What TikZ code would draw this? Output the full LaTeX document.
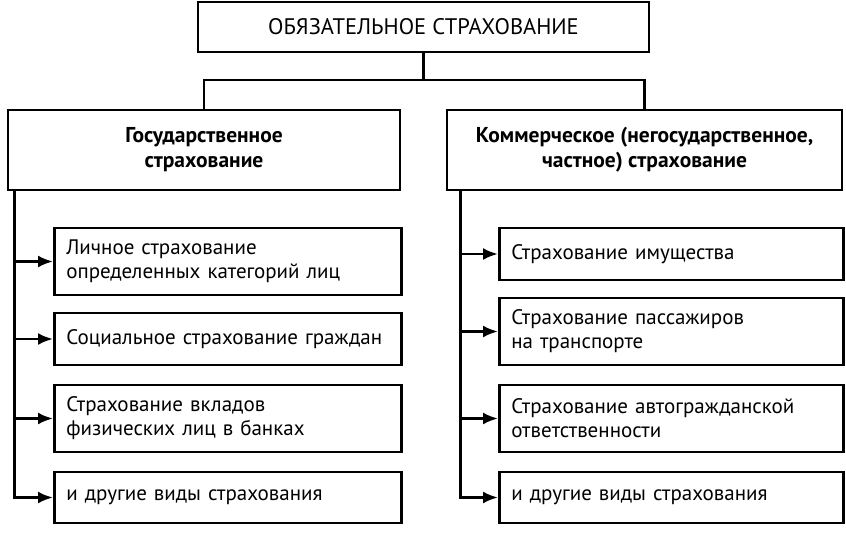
\documentclass[tikz,border=0pt]{standalone}
\usepackage{fontspec}
\setmainfont{PT Sans}
\usetikzlibrary{arrows.meta,positioning}
\begin{document}
\begin{tikzpicture}
[x=1pt,y=-1pt,
every node/.style={font=\fontsize{21}{24}\selectfont},
%
head/.style={shape=rectangle,draw=black,line width=2.8pt,minimum width=451pt,minimum height=50pt,font=\fontsize{22.5}{24}\selectfont},
branch/.style={shape=rectangle,draw=black,line width=2.8pt,minimum height=80pt,align=center,font=\fontsize{21.5}{25}\selectfont\bfseries},
leaf/.style={shape=rectangle,draw=black,line width=2.6pt,anchor=west,inner xsep=12pt,inner ysep=0pt,align=left},
%
link/.style={draw,line width=2.6pt},
feed/.style={>={Latex[length=15pt,width=12pt]}, link, ->}]
%
\useasboundingbox (0,0) rectangle (846,542);
%
% top
\node (top) [head] at (423.5,27) {ОБЯЗАТЕЛЬНОЕ СТРАХОВАНИЕ};
%%
% branches
\node (gov) [branch,minimum width=392pt] at (204,150) {Государственное\\страхование};
\node (com) [branch,minimum width=395pt] at (644.5,150) {Коммерческое (негосударственное,\\частное) страхование};
%%
\coordinate (fork) at (423.5,80);
\draw[link] (top.south) -- (fork);
\draw[link] (gov.north) |- (fork) -| (com.north);
%%
% state leaves
\foreach \i/\y/\h/\t in {1/261.5/67/{Личное страхование\\определенных категорий лиц},
                         2/339/52/{Социальное страхование граждан},
                         3/418.5/67/{Страхование вкладов\\физических лиц в банках},
                         4/497.5/51/{и другие виды страхования}}
   \node (g\i) [leaf,text width=323pt,minimum height=\h pt] at (53,\y) {\t};
%%
% commercial leaves
\foreach \i/\y/\h/\t in {1/254/52/{Страхование имущества},
                         2/331.5/67/{Страхование пассажиров\\на транспорте},
                         3/418.5/67/{Страхование автогражданской\\ответственности},
                         4/497.5/51/{и другие виды страхования}}
   \node (c\i) [leaf,text width=320pt,minimum height=\h pt] at (498,\y) {\t};
%%
% arrows
\foreach \i in {1,...,4}
{
   \draw[feed] (gov.south west) ++(8,0) |- (g\i.west);
   \draw[feed] (com.south west) ++(15,0) |- (c\i.west);
}
\end{tikzpicture}
\end{document}
